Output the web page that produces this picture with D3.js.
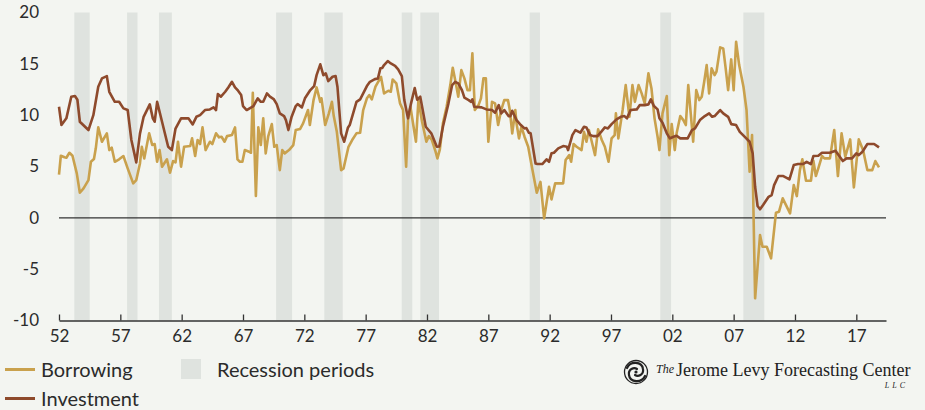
<!DOCTYPE html>
<html>
<head>
<meta charset="utf-8">
<script src="https://cdn.jsdelivr.net/npm/d3@7"></script>
<style>
  body { margin: 0; background: #f3f5f1; }
  svg { display: block; font-family: Lato, "Open Sans", sans-serif; }
</style>
</head>
<body>
<svg id="chart" width="925" height="410"></svg>
<script>
// year ticks and y ticks
const xTicks = [1952, 1957, 1962, 1967, 1972, 1977, 1982, 1987, 1992, 1997, 2002, 2007, 2012, 2017];
const yTicks = [-10, -5, 0, 5, 10, 15, 20];

// recession periods [start, end] in years
const recessions = [
  [1953.25, 1954.5], [1957.55, 1958.4], [1960.15, 1961.2], [1969.7, 1971.0],
  [1973.63, 1975.13], [1979.94, 1980.8], [1981.46, 1982.98], [1990.37, 1991.21],
  [2001.02, 2001.9], [2007.79, 2009.5]
];

// [year, % ]
const borrowing = [
  [1952.0, 4.2], [1952.15, 6.05], [1952.45, 5.9], [1952.6, 5.85], [1952.85, 6.34], [1953.1, 6.05],
  [1953.45, 4.33], [1953.7, 2.44], [1954.0, 2.87], [1954.4, 3.68], [1954.6, 5.46], [1954.85, 5.73],
  [1955.0, 6.77], [1955.2, 8.81], [1955.5, 7.41], [1955.9, 8.23], [1956.1, 6.6], [1956.3, 6.83],
  [1956.55, 5.46], [1956.9, 5.7], [1957.25, 6.02], [1957.6, 4.82], [1958.05, 3.36], [1958.3, 3.68],
  [1958.6, 5.3], [1958.75, 6.92], [1958.95, 5.79], [1959.35, 8.23], [1959.6, 7.09], [1959.8, 7.19],
  [1960.0, 5.46], [1960.2, 6.6], [1960.4, 4.98], [1960.8, 5.7], [1961.05, 4.39], [1961.3, 5.53],
  [1961.5, 5.4], [1961.7, 7.41], [1961.95, 4.98], [1962.2, 6.92], [1962.7, 6.99], [1962.85, 7.74],
  [1963.1, 6.02], [1963.3, 7.58], [1963.5, 7.19], [1963.7, 8.81], [1963.95, 6.6], [1964.3, 7.41],
  [1964.5, 7.19], [1964.8, 8.23], [1965.05, 7.84], [1965.25, 7.9], [1965.5, 7.41], [1965.7, 7.96],
  [1966.1, 8.06], [1966.35, 8.81], [1966.55, 5.7], [1966.75, 5.46], [1966.95, 5.46], [1967.15, 6.6],
  [1967.5, 6.44], [1967.65, 6.34], [1967.8, 12.18], [1968.05, 2.12], [1968.25, 8.81], [1968.45, 7.09],
  [1968.65, 9.69], [1968.85, 6.28], [1969.05, 7.9], [1969.35, 9.13], [1969.55, 6.92], [1969.75, 7.09],
  [1970.0, 4.65], [1970.2, 6.6], [1970.4, 6.28], [1970.75, 6.6], [1971.1, 7.09], [1971.3, 8.55],
  [1971.65, 8.65], [1971.9, 9.2], [1972.3, 10.5], [1972.45, 9.04], [1972.75, 11.47], [1973.0, 12.7],
  [1973.3, 11.3], [1973.4, 11.64], [1973.7, 9.04], [1974.0, 10.17], [1974.25, 11.3], [1974.4, 9.91],
  [1974.65, 8.38], [1975.0, 4.65], [1975.2, 4.82], [1975.6, 6.92], [1975.9, 7.58], [1976.25, 8.23],
  [1976.55, 8.29], [1976.8, 10.5], [1977.1, 11.64], [1977.3, 11.96], [1977.5, 11.54], [1977.8, 12.77],
  [1978.25, 13.74], [1978.5, 12.12], [1978.85, 12.38], [1979.05, 12.28], [1979.2, 13.48], [1979.5, 13.1],
  [1979.8, 11.15], [1980.05, 10.5], [1980.3, 4.98], [1980.45, 9.52], [1980.65, 10.8], [1981.1, 7.41],
  [1981.3, 11.47], [1981.6, 9.36], [1981.95, 7.41], [1982.15, 7.96], [1982.4, 7.58], [1982.7, 6.44],
  [1982.85, 5.79], [1983.05, 6.67], [1983.3, 9.2], [1983.6, 10.82], [1983.9, 12.93], [1984.1, 14.62],
  [1984.35, 13.1], [1984.55, 11.8], [1984.8, 14.39], [1985.05, 13.58], [1985.3, 12.44], [1985.5, 12.44],
  [1985.7, 16.02], [1985.9, 10.5], [1986.2, 10.98], [1986.4, 11.64], [1986.6, 13.58], [1986.8, 13.58],
  [1987.0, 7.41], [1987.3, 11.3], [1987.55, 11.15], [1987.8, 9.04], [1988.05, 10.5], [1988.3, 11.47],
  [1988.6, 11.47], [1988.75, 10.5], [1988.95, 8.23], [1989.2, 10.5], [1989.3, 9.2], [1989.5, 7.74],
  [1989.7, 8.87], [1989.95, 7.9], [1990.25, 6.92], [1990.6, 4.65], [1990.95, 2.44], [1991.25, 3.5],
  [1991.55, -0.05], [1991.95, 3.03], [1992.15, 1.8], [1992.45, 3.36], [1993.1, 3.36], [1993.3, 5.63],
  [1993.6, 6.11], [1993.75, 5.46], [1993.95, 7.19], [1994.2, 6.92], [1994.6, 6.6], [1994.8, 8.38],
  [1995.0, 7.41], [1995.2, 8.55], [1995.4, 7.58], [1995.7, 6.11], [1995.95, 8.62], [1996.25, 7.58],
  [1996.5, 6.92], [1996.8, 5.46], [1997.05, 7.74], [1997.3, 8.06], [1997.4, 10.17], [1997.6, 7.74],
  [1997.95, 10.5], [1998.2, 12.93], [1998.5, 9.84], [1998.75, 12.93], [1998.95, 11.3], [1999.25, 12.93],
  [1999.5, 12.12], [1999.75, 11.15], [2000.05, 14.07], [2000.3, 12.6], [2000.55, 9.69], [2000.8, 7.9],
  [2000.95, 6.6], [2001.2, 10.17], [2001.55, 11.86], [2001.75, 6.11], [2001.95, 9.13], [2002.2, 6.6],
  [2002.35, 8.23], [2002.65, 9.91], [2002.9, 9.52], [2003.1, 9.04], [2003.3, 12.93], [2003.5, 10.17],
  [2003.7, 7.41], [2003.95, 12.44], [2004.2, 11.47], [2004.4, 11.8], [2004.6, 13.25], [2004.8, 14.88],
  [2005.0, 12.12], [2005.2, 14.56], [2005.45, 13.9], [2005.6, 14.23], [2005.9, 16.6], [2006.15, 16.5],
  [2006.35, 14.56], [2006.55, 12.44], [2006.8, 15.43], [2007.0, 12.44], [2007.2, 17.15], [2007.45, 14.88],
  [2007.8, 12.77], [2008.05, 10.5], [2008.3, 4.49], [2008.5, 8.06], [2008.75, -7.84], [2009.15, -1.67],
  [2009.35, -2.81], [2009.7, -2.81], [2010.05, -3.94], [2010.45, 0.5], [2010.7, 0.6], [2011.0, 1.9],
  [2011.6, 0.44], [2011.9, 3.19], [2012.15, 2.12], [2012.4, 4.65], [2012.6, 5.7], [2012.9, 3.61],
  [2013.3, 3.61], [2013.5, 5.56], [2013.7, 4.07], [2013.9, 4.82], [2014.2, 6.02], [2014.4, 5.79],
  [2014.85, 5.79], [2015.2, 8.55], [2015.5, 4.07], [2015.8, 8.23], [2016.1, 5.95], [2016.5, 7.64],
  [2016.8, 2.97], [2017.2, 7.64], [2017.55, 6.6], [2017.9, 4.65], [2018.3, 4.65], [2018.55, 5.53],
  [2018.85, 4.92]
];

const investment = [
  [1952.0, 10.82], [1952.2, 9.04], [1952.6, 9.69], [1953.0, 11.8], [1953.3, 11.86], [1953.5, 11.5],
  [1953.7, 9.36], [1954.4, 8.55], [1954.8, 10.0], [1955.2, 12.77], [1955.5, 13.58], [1955.9, 13.8],
  [1956.1, 12.28], [1956.55, 11.3], [1956.9, 11.3], [1957.25, 10.66], [1957.6, 10.5], [1957.9, 7.58],
  [1958.3, 5.4], [1958.6, 8.2], [1958.9, 9.84], [1959.4, 11.05], [1959.65, 9.69], [1959.8, 9.36],
  [1960.0, 11.3], [1960.4, 9.36], [1960.9, 6.92], [1961.2, 6.6], [1961.5, 8.7], [1961.95, 9.69],
  [1962.55, 9.69], [1962.9, 9.1], [1963.2, 9.84], [1963.5, 10.0], [1963.9, 10.5], [1964.3, 10.56],
  [1964.6, 10.76], [1964.8, 10.5], [1964.95, 12.05], [1965.2, 11.8], [1965.55, 12.28], [1965.8, 12.7],
  [1966.1, 13.25], [1966.35, 12.7], [1966.6, 12.38], [1966.85, 11.96], [1967.0, 10.89], [1967.3, 10.5],
  [1967.85, 10.89], [1968.2, 11.64], [1968.45, 11.3], [1968.65, 11.3], [1968.95, 12.12], [1969.2, 11.8],
  [1969.5, 11.57], [1969.75, 11.08], [1970.0, 10.17], [1970.35, 9.91], [1970.5, 9.52], [1970.7, 8.55],
  [1970.95, 9.79], [1971.3, 10.89], [1971.45, 11.08], [1971.8, 10.76], [1972.05, 11.64], [1972.45, 12.38],
  [1972.8, 12.83], [1973.0, 13.9], [1973.3, 14.95], [1973.55, 13.9], [1973.75, 14.07], [1973.95, 13.32],
  [1974.3, 13.74], [1974.55, 13.81], [1974.7, 12.77], [1975.0, 8.23], [1975.25, 7.41], [1975.55, 8.77],
  [1975.7, 9.04], [1976.25, 11.3], [1976.55, 11.54], [1976.8, 12.12], [1977.1, 12.83], [1977.35, 13.25],
  [1977.75, 13.51], [1978.0, 13.58], [1978.2, 14.56], [1978.35, 14.6], [1978.5, 14.88], [1978.8, 15.27],
  [1979.05, 15.04], [1979.4, 14.81], [1979.65, 14.46], [1979.95, 13.81], [1980.15, 11.47], [1980.45, 9.69],
  [1980.7, 11.15], [1981.0, 12.65], [1981.2, 11.5], [1981.45, 11.8], [1981.65, 10.5], [1981.9, 8.87],
  [1982.35, 8.23], [1982.8, 6.92], [1983.0, 6.95], [1983.3, 8.87], [1983.75, 11.15], [1984.05, 12.93],
  [1984.3, 13.25], [1984.55, 13.1], [1984.85, 12.44], [1985.05, 11.7], [1985.4, 11.47], [1985.6, 11.3],
  [1985.7, 11.54], [1985.85, 10.82], [1986.45, 10.76], [1986.85, 10.56], [1987.3, 10.5], [1987.55, 10.24],
  [1987.85, 10.98], [1988.05, 10.17], [1988.3, 10.5], [1988.65, 9.91], [1988.8, 9.91], [1988.95, 10.43],
  [1989.3, 9.52], [1989.65, 9.04], [1989.95, 8.71], [1990.1, 8.75], [1990.3, 8.29], [1990.45, 8.23],
  [1990.85, 5.3], [1991.0, 5.24], [1991.4, 5.24], [1991.75, 5.7], [1991.95, 5.46], [1992.15, 6.28],
  [1992.35, 6.34], [1992.7, 6.77], [1993.1, 6.99], [1993.4, 6.92], [1993.5, 6.6], [1993.85, 8.06],
  [1994.1, 8.55], [1994.5, 8.29], [1994.8, 8.87], [1995.0, 8.8], [1995.3, 8.06], [1995.55, 7.96],
  [1995.9, 7.96], [1996.2, 8.38], [1996.5, 8.81], [1996.75, 8.71], [1997.05, 9.13], [1997.45, 9.59],
  [1997.8, 9.84], [1998.1, 9.91], [1998.3, 9.69], [1998.6, 10.5], [1999.1, 10.56], [1999.35, 10.98],
  [1999.75, 10.98], [2000.05, 11.05], [2000.25, 11.54], [2000.5, 10.89], [2000.8, 10.56], [2000.95, 9.69],
  [2001.2, 9.26], [2001.55, 8.23], [2001.8, 7.74], [2002.1, 7.9], [2002.35, 8.0], [2002.65, 7.74],
  [2003.25, 7.74], [2003.6, 8.55], [2003.85, 8.71], [2004.25, 9.52], [2004.65, 9.91], [2005.0, 10.17],
  [2005.25, 9.84], [2005.45, 9.91], [2005.9, 10.5], [2006.15, 10.17], [2006.55, 9.84], [2006.8, 9.13],
  [2007.2, 9.04], [2007.5, 8.38], [2007.95, 7.84], [2008.3, 7.41], [2008.55, 6.28], [2008.75, 3.03],
  [2008.95, 1.15], [2009.15, 0.83], [2009.4, 1.25], [2009.85, 2.05], [2010.1, 2.22], [2010.3, 3.19],
  [2010.65, 4.07], [2011.05, 4.07], [2011.55, 3.75], [2011.9, 5.14], [2012.25, 5.24], [2012.65, 5.24],
  [2012.95, 5.46], [2013.3, 5.24], [2013.5, 6.02], [2013.9, 6.05], [2014.2, 6.34], [2014.85, 6.34],
  [2015.3, 6.53], [2015.55, 6.11], [2015.9, 5.53], [2016.2, 5.79], [2016.65, 5.79], [2017.0, 6.28],
  [2017.2, 6.11], [2017.5, 6.44], [2017.9, 7.19], [2018.45, 7.19], [2018.85, 6.86]
];

const BORROW_COLOR = "#c9a14d";
const INVEST_COLOR = "#8e4a2c";
const RECESSION_COLOR = "#dfe3df";
const TEXT_COLOR = "#2b2b2b";

const svg = d3.select("#chart");

const xScale = d3.scaleLinear().domain([1952, 2019.42]).range([59, 886]);
const yScale = d3.scaleLinear().domain([-10, 20]).range([320.5, 12.5]);

// recession bands
svg.append("g").selectAll("rect")
  .data(recessions)
  .enter().append("rect")
  .attr("x", d => xScale(d[0]))
  .attr("width", d => xScale(d[1]) - xScale(d[0]))
  .attr("y", yScale(20))
  .attr("height", yScale(-10) - yScale(20))
  .attr("fill", RECESSION_COLOR);

// y axis labels, no line
const yAxis = svg.append("g")
  .attr("transform", "translate(45,0)")
  .call(d3.axisLeft(yScale).tickValues(yTicks).tickSize(0).tickPadding(6).tickFormat(d => String(d)));
yAxis.select(".domain").remove();
yAxis.selectAll("text")
  .attr("fill", TEXT_COLOR)
  .style("font-family", "Lato, sans-serif")
  .style("font-size", "17px");

// zero line
svg.append("line")
  .attr("x1", xScale(1952)).attr("x2", xScale(2019.42))
  .attr("y1", yScale(0)).attr("y2", yScale(0))
  .attr("stroke", "#333").attr("stroke-width", 1.3);

const line = d3.line()
  .x(d => xScale(d[0]))
  .y(d => yScale(d[1]));

svg.append("path")
  .datum(borrowing)
  .attr("d", line)
  .attr("fill", "none")
  .attr("stroke", BORROW_COLOR)
  .attr("stroke-width", 2.6)
  .attr("stroke-linejoin", "round");

svg.append("path")
  .datum(investment)
  .attr("d", line)
  .attr("fill", "none")
  .attr("stroke", INVEST_COLOR)
  .attr("stroke-width", 2.6)
  .attr("stroke-linejoin", "round");

// x axis with ticks pointing up
const xAxis = svg.append("g")
  .attr("transform", "translate(0," + yScale(-10) + ")")
  .call(d3.axisBottom(xScale)
    .tickValues(xTicks)
    .tickSizeInner(-6)
    .tickSizeOuter(0)
    .tickPadding(9)
    .tickFormat(d => String(d % 100).padStart(2, "0")));
xAxis.select(".domain").attr("stroke", "#333").attr("stroke-width", 1.5);
xAxis.selectAll(".tick line").attr("stroke", "#333").attr("stroke-width", 1.3);
xAxis.selectAll("text")
  .attr("fill", TEXT_COLOR)
  .style("font-family", "Lato, sans-serif")
  .style("font-size", "17px");

// legend
const legend = svg.append("g").style("font-family", "Lato, sans-serif").style("font-size", "20px");
const legendItems = [
  {label: "Borrowing", color: BORROW_COLOR, y: 369.5},
  {label: "Investment", color: INVEST_COLOR, y: 398.5}
];
legendItems.forEach(function(item) {
  legend.append("line")
    .attr("x1", 5).attr("x2", 35)
    .attr("y1", item.y).attr("y2", item.y)
    .attr("stroke", item.color).attr("stroke-width", 3);
  legend.append("text")
    .attr("x", 41).attr("y", item.y)
    .attr("dy", "0.35em")
    .attr("fill", TEXT_COLOR)
    .text(item.label);
});
legend.append("rect")
  .attr("x", 181).attr("y", 359).attr("width", 20).attr("height", 20)
  .attr("fill", RECESSION_COLOR);
legend.append("text")
  .attr("x", 217).attr("y", 369.5)
  .attr("dy", "0.35em")
  .attr("fill", TEXT_COLOR)
  .text("Recession periods");

// logo
const logo = svg.append("g").attr("transform", "translate(636,372)");
logo.append("circle").attr("r", 11.5).attr("fill", "none").attr("stroke", "#222").attr("stroke-width", 1.3);
logo.append("path")
  .attr("d", "M-9,-4 C-6,-11 6,-11 7,-3 C8,3 2,5 -1,3 M9,4 C6,11 -6,11 -7,3 C-8,-3 -2,-5 1,-3")
  .attr("fill", "none").attr("stroke", "#222").attr("stroke-width", 2.2).attr("stroke-linecap", "round");
logo.append("circle").attr("r", 1.6).attr("fill", "#222");

const logoText = svg.append("text")
  .attr("x", 656).attr("y", 376)
  .attr("fill", "#222")
  .style("font-family", "'Liberation Serif', 'DejaVu Serif', serif");
logoText.append("tspan")
  .style("font-style", "italic").style("font-size", "12px")
  .attr("dy", "-3").text("The");
logoText.append("tspan")
  .style("font-size", "18px")
  .attr("dy", "3").attr("dx", "2").text("Jerome Levy Forecasting Center");
svg.append("text")
  .attr("x", 908).attr("y", 388)
  .attr("text-anchor", "end")
  .attr("fill", "#222")
  .style("font-family", "'Liberation Serif', serif")
  .style("font-style", "italic")
  .style("font-size", "8px")
  .style("letter-spacing", "3px")
  .text("LLC");
</script>
</body>
</html>
